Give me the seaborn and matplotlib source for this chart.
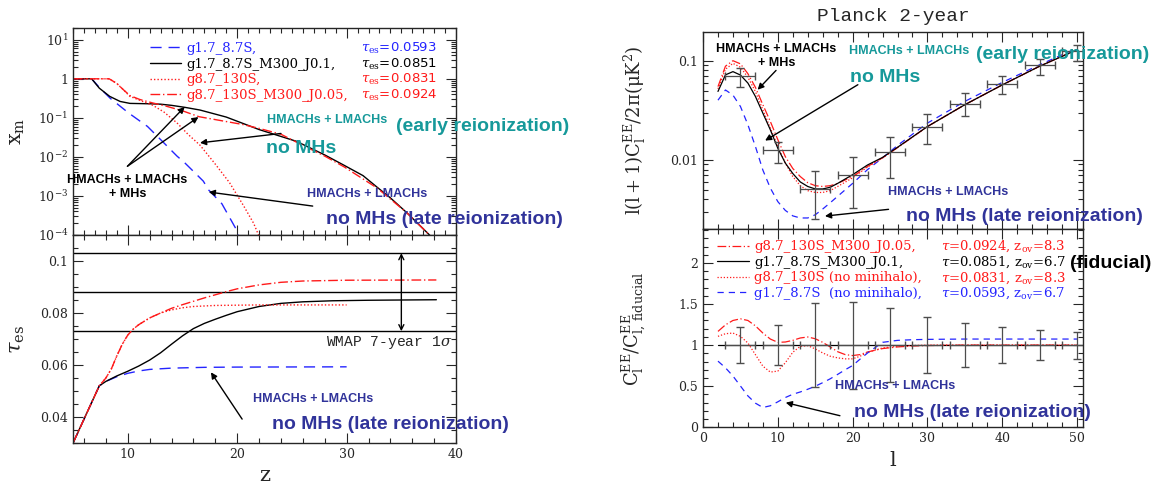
import numpy as np
import matplotlib
matplotlib.use("Agg")
import matplotlib.pyplot as plt
import matplotlib.ticker as mticker
import seaborn as sns

sns.set_style("ticks")
plt.rcParams['font.family'] = ['DejaVu Serif']
plt.rcParams['mathtext.fontset'] = 'dejavuserif'

BLUE = '#2424ff'
RED = '#ff1a1a'
TEAL = '#16999a'
NAVY = '#30339a'
BOLD = ['Liberation Sans', 'DejaVu Sans']

DASH = (0, (8, 5))
SDASH = (0, (5, 4))
DOT = (0, (1, 1.5))
DDOT = (0, (7, 2, 1, 2))

# ------------------------
# Data: x_m vs z (log10 x_m)
# ------------------------
z_xm_blue = [5.0, 6.7, 7.4, 8.4, 10.1, 11.8, 12.8, 14.5, 15.2, 16.9, 17.4, 18.6, 19.9, 20.2]
lxm_blue = [0.0, 0.0, -0.22, -0.50, -0.88, -1.22, -1.50, -1.98, -2.15, -2.62, -2.85, -3.20, -3.85, -4.10]

z_xm_black = [5.0, 6.7, 7.4, 8.35, 9.3, 10.2, 12.0, 13.0, 14.0, 15.2, 16.6, 19.0, 22.0, 25.4, 28.0,
              29.8, 31.5, 32.8, 34.0, 35.5, 37.5, 38.2]
lxm_black = [0.0, 0.0, -0.24, -0.45, -0.58, -0.63, -0.64, -0.65, -0.68, -0.73, -0.80, -0.98, -1.30,
             -1.60, -1.95, -2.22, -2.48, -2.78, -3.05, -3.43, -3.98, -4.20]

z_xm_dd = [5.0, 8.3, 9.0, 9.6, 10.2, 11.1, 12.3, 13.5, 15.0, 16.5, 18.5, 20.5, 22.0, 24.0, 25.4,
           28.0, 29.8, 32.8, 35.5, 37.5, 38.2]
lxm_dd = [0.0, 0.0, -0.12, -0.28, -0.43, -0.53, -0.62, -0.70, -0.82, -0.97, -1.07, -1.17, -1.27,
          -1.42, -1.62, -1.98, -2.26, -2.80, -3.43, -3.98, -4.20]

z_xm_dot = [5.0, 8.3, 9.0, 9.6, 10.2, 11.1, 12.3, 13.3, 14.5, 15.5, 16.6, 17.9, 19.3, 20.6, 21.5, 22.1]
lxm_dot = [0.0, 0.0, -0.12, -0.28, -0.45, -0.55, -0.68, -0.85, -1.13, -1.42, -1.70, -2.15, -2.66,
           -3.26, -3.70, -4.10]

# ------------------------
# Data: tau_es vs z
# ------------------------
z_tau_blue = [5.0, 7.4, 8.0, 9.0, 10.0, 11.0, 12.0, 14.0, 17.0, 20.0, 30.0]
tau_blue = [0.030, 0.052, 0.0537, 0.0555, 0.0568, 0.0577, 0.0583, 0.0588, 0.0591, 0.0592, 0.0593]

z_tau_black = [5.0, 7.4, 8.0, 9.0, 10.0, 11.0, 12.0, 13.0, 14.0, 15.0, 16.0, 17.0, 18.0, 19.0, 20.0,
               22.0, 24.0, 26.0, 28.7, 32.0, 38.2]
tau_black = [0.030, 0.052, 0.0537, 0.0558, 0.0576, 0.0596, 0.0619, 0.0647, 0.0680, 0.0712, 0.0740,
             0.0760, 0.0776, 0.0791, 0.0805, 0.0825, 0.0837, 0.0843, 0.0847, 0.0849, 0.0851]

z_tau_dd = [5.0, 7.4, 8.0, 8.5, 9.0, 9.5, 10.0, 10.5, 11.0, 12.0, 13.0, 14.0, 15.0, 16.0, 17.0, 18.0,
            19.0, 20.0, 22.0, 24.0, 26.0, 30.0, 38.2]
tau_dd = [0.030, 0.052, 0.0550, 0.0585, 0.0635, 0.0680, 0.0715, 0.0738, 0.0755, 0.0781, 0.0800,
          0.0818, 0.0832, 0.0845, 0.0858, 0.0870, 0.0882, 0.0893, 0.0908, 0.0918, 0.0923, 0.0926,
          0.0927]

z_tau_dot = [5.0, 7.4, 8.0, 8.5, 9.0, 9.5, 10.0, 10.5, 11.0, 12.0, 13.0, 14.0, 15.0, 16.0, 18.0,
             22.0, 30.0]
tau_dot = [0.030, 0.052, 0.0550, 0.0585, 0.0635, 0.0680, 0.0715, 0.0738, 0.0755, 0.0781, 0.0800,
           0.0812, 0.0820, 0.0825, 0.0829, 0.0831, 0.0831]

wmap_tau = [0.073, 0.088, 0.103]

# ------------------------
# Data: EE spectrum
# ------------------------
ell = [2, 3, 4, 5, 6, 7, 8, 9, 10, 11, 12, 13, 14, 15, 16, 17, 18, 20, 22, 24, 26, 30, 35, 40, 45, 50]
cl_black = [0.049, 0.072, 0.0776, 0.0717, 0.0595, 0.0437, 0.0296, 0.0201, 0.0131, 0.0093, 0.0073,
            0.0060, 0.0054, 0.0051, 0.0051, 0.0053, 0.0058, 0.0071, 0.0089, 0.0106, 0.0134, 0.0217,
            0.036, 0.057, 0.088, 0.129]
cl_dd = [0.0548, 0.088, 0.100, 0.093, 0.074, 0.054, 0.036, 0.0244, 0.016, 0.0108, 0.0082, 0.0068,
         0.0059, 0.0055, 0.0054, 0.0055, 0.0058, 0.0068, 0.0086, 0.0105, 0.0133, 0.0217, 0.036,
         0.057, 0.088, 0.129]
cl_dot = [0.052, 0.082, 0.094, 0.086, 0.068, 0.049, 0.032, 0.021, 0.0137, 0.0093, 0.0068, 0.0055,
          0.0049, 0.0047, 0.0047, 0.0049, 0.0054, 0.0066, 0.0085, 0.0105, 0.0133, 0.0217, 0.036,
          0.057, 0.088, 0.129]
cl_blue = [0.040, 0.0507, 0.045, 0.0346, 0.0226, 0.0137, 0.0079, 0.0052, 0.0038, 0.0031, 0.00273,
           0.0026, 0.0026, 0.0028, 0.0032, 0.0037, 0.0043, 0.0058, 0.0080, 0.0105, 0.0140, 0.0235,
           0.0389, 0.0604, 0.091, 0.134]

ell_bin = [5, 10, 15, 20, 25, 30, 35, 40, 45, 50]
cl_bin = [0.0705, 0.0126, 0.0051, 0.0071, 0.0119, 0.0217, 0.0368, 0.0586, 0.0897, 0.124]
cl_lo = [0.0542, 0.0094, 0.00254, 0.00325, 0.00653, 0.0145, 0.0274, 0.046, 0.0716, 0.100]
cl_hi = [0.0843, 0.0153, 0.0078, 0.0108, 0.0172, 0.0292, 0.0471, 0.0705, 0.104, 0.145]
ratio_err = [0.22, 0.243, 0.51, 0.53, 0.45, 0.34, 0.27, 0.22, 0.185, 0.165]

# ------------------------
# Data: ratio to fiducial
# ------------------------
ell_r = [2, 3, 4, 5, 6, 7, 8, 9, 10, 11, 12, 13, 14, 15, 16, 17, 18, 19, 20, 21, 22, 24, 26, 28, 30,
         35, 40, 45, 50]
ratio_dd = [1.167, 1.247, 1.30, 1.32, 1.30, 1.235, 1.147, 1.074, 1.034, 1.038, 1.058, 1.087, 1.099,
            1.078, 1.034, 0.978, 0.92, 0.885, 0.873, 0.885, 0.917, 0.958, 0.978, 0.99, 0.995, 1.0,
            1.0, 1.0, 1.0]
ratio_dot = [1.107, 1.139, 1.147, 1.107, 1.026, 0.885, 0.744, 0.672, 0.684, 0.785, 0.913, 0.986,
             0.994, 0.954, 0.905, 0.865, 0.845, 0.833, 0.833, 0.865, 0.913, 0.966, 0.986, 0.995,
             1.0, 1.0, 1.0, 1.0, 1.0]
ratio_blue = [0.805, 0.724, 0.624, 0.503, 0.382, 0.294, 0.241, 0.262, 0.31, 0.362, 0.402, 0.43,
              0.463, 0.5, 0.543, 0.59, 0.644, 0.70, 0.752, 0.83, 0.905, 1.034, 1.058, 1.066, 1.07,
              1.074, 1.074, 1.074, 1.074]
ell_fid = [2, 50.8]
ratio_fid = [1.0, 1.0]

names_left = ['g1.7_8.7S,', 'g1.7_8.7S_M300_J0.1,', 'g8.7_130S,', 'g8.7_130S_M300_J0.05,']
taus_left = [r'$\tau_{\rm es}$=0.0593', r'$\tau_{\rm es}$=0.0851', r'$\tau_{\rm es}$=0.0831',
             r'$\tau_{\rm es}$=0.0924']
names_right = ['g8.7_130S_M300_J0.05,', 'g1.7_8.7S_M300_J0.1,', 'g8.7_130S (no minihalo),',
               'g1.7_8.7S  (no minihalo),']
taus_right = [r'$\tau$=0.0924, z$_{\rm ov}$=8.3', r'$\tau$=0.0851, z$_{\rm ov}$=6.7',
              r'$\tau$=0.0831, z$_{\rm ov}$=8.3', r'$\tau$=0.0593, z$_{\rm ov}$=6.7']


def style_axes(ax):
    ax.tick_params(which='both', direction='in', top=True, right=True, labelsize=9, width=0.8)
    ax.tick_params(which='major', length=7)
    ax.tick_params(which='minor', length=3.5)
    for s in ax.spines.values():
        s.set_linewidth(1.0)


def arrow(ax, start, end, style='-|>'):
    ax.annotate('', xy=end, xytext=start,
                arrowprops=dict(arrowstyle=style, color='k', lw=1, shrinkA=0, shrinkB=0,
                                mutation_scale=9))


def legend_tau(ax, handles, names, taus, colors, anchor, tau_x, tau_family):
    # names go in a real legend, the tau column is put on the same baselines
    leg = ax.legend(handles, names, loc='upper left', bbox_to_anchor=anchor, frameon=False,
                    fontsize=9.5, handlelength=2.4, handletextpad=0.4, labelspacing=0.2,
                    borderpad=0, borderaxespad=0, labelcolor=colors)
    fig.canvas.draw()
    for txt, tau, c in zip(leg.get_texts(), taus, colors):
        xd, yd = txt.get_transform().transform(txt.get_position())
        ya = ax.transAxes.inverted().transform((xd, yd))[1]
        ax.text(tau_x, ya, tau, color=c, fontsize=9.5, va='baseline', ha='left',
                family=tau_family, transform=ax.transAxes)


def bold(ax, x, y, s, color, size, **kw):
    ax.text(x, y, s, color=color, fontsize=size, fontweight='bold', family=BOLD,
            va='center', **kw)


fig = plt.figure(figsize=(11.54, 4.87), dpi=100)
ax1 = fig.add_axes([0.0633, 0.5175, 0.3319, 0.425])
ax2 = fig.add_axes([0.0633, 0.0903, 0.3319, 0.4272])
ax3 = fig.add_axes([0.6092, 0.5292, 0.3293, 0.4057])
ax4 = fig.add_axes([0.6092, 0.1226, 0.3293, 0.4066])

# ------------------------
# x_m panel
# ------------------------
ax1.set_yscale('log')
sns.lineplot(x=z_xm_blue, y=10 ** np.array(lxm_blue), ax=ax1, color=BLUE, linestyle=DASH, lw=1)
sns.lineplot(x=z_xm_black, y=10 ** np.array(lxm_black), ax=ax1, color='k', lw=1)
sns.lineplot(x=z_xm_dot, y=10 ** np.array(lxm_dot), ax=ax1, color=RED, linestyle=DOT, lw=1)
sns.lineplot(x=z_xm_dd, y=10 ** np.array(lxm_dd), ax=ax1, color=RED, linestyle=DDOT, lw=1)
ax1.set_xlim(5, 40)
ax1.set_ylim(1e-4, 20)
ax1.xaxis.set_major_locator(mticker.MultipleLocator(10))
ax1.xaxis.set_minor_locator(mticker.MultipleLocator(1))
ax1.yaxis.set_major_locator(mticker.LogLocator(base=10, numticks=10))
ax1.yaxis.set_minor_locator(mticker.LogLocator(base=10, subs=np.arange(2, 10), numticks=20))
ax1.yaxis.set_major_formatter(mticker.FuncFormatter(
    lambda v, p: '1' if abs(v - 1) < 1e-9 else r'$10^{%d}$' % round(np.log10(v))))
ax1.yaxis.set_minor_formatter(mticker.NullFormatter())
ax1.set_xticklabels([])
ax1.set_xlabel('')
ax1.set_ylabel(r'$\mathrm{x_m}$', fontsize=15)
ax1.yaxis.set_label_coords(-0.12, 0.5)
style_axes(ax1)
legend_tau(ax1, ax1.get_lines()[:4], names_left, taus_left, [BLUE, 'k', RED, RED], (0.2, 0.933),
           0.752, 'DejaVu Sans')

bold(ax1, 9.97, 10 ** -2.77, 'HMACHs + LMACHs\n+ MHs', 'k', 9, ha='center', multialignment='center')
arrow(ax1, (9.97, 10 ** -2.24), (15.2, 10 ** -0.72))
arrow(ax1, (9.97, 10 ** -2.24), (16.46, 10 ** -0.98))
bold(ax1, 28.2, 10 ** -1.06, 'HMACHs + LMACHs', TEAL, 9, ha='center')
bold(ax1, 34.5, 10 ** -1.22, '(early reionization)', TEAL, 14, ha='left')
bold(ax1, 25.8, 10 ** -1.79, 'no MHs', TEAL, 14, ha='center')
arrow(ax1, (24.0, 10 ** -1.40), (16.6, 10 ** -1.64))
bold(ax1, 31.9, 10 ** -2.94, 'HMACHs + LMACHs', NAVY, 9, ha='center')
bold(ax1, 38.95, 10 ** -3.6, 'no MHs (late reionization)', NAVY, 14, ha='center')
arrow(ax1, (26.9, 10 ** -3.26), (17.4, 10 ** -2.9))

# ------------------------
# tau_es panel
# ------------------------
for t in wmap_tau:
    ax2.axhline(t, color='k', lw=1)
sns.lineplot(x=z_tau_blue, y=tau_blue, ax=ax2, color=BLUE, linestyle=DASH, lw=1)
sns.lineplot(x=z_tau_black, y=tau_black, ax=ax2, color='k', lw=1)
sns.lineplot(x=z_tau_dot, y=tau_dot, ax=ax2, color=RED, linestyle=DOT, lw=1)
sns.lineplot(x=z_tau_dd, y=tau_dd, ax=ax2, color=RED, linestyle=DDOT, lw=1)
ax2.set_xlim(5, 40)
ax2.set_ylim(0.03, 0.11)
ax2.xaxis.set_major_locator(mticker.MultipleLocator(10))
ax2.xaxis.set_minor_locator(mticker.MultipleLocator(2))
ax2.yaxis.set_major_locator(mticker.FixedLocator([0.04, 0.06, 0.08, 0.1]))
ax2.yaxis.set_major_formatter(mticker.FixedFormatter(['0.04', '0.06', '0.08', '0.1']))
ax2.yaxis.set_minor_locator(mticker.MultipleLocator(0.005))
ax2.set_xlabel('z', fontsize=15)
ax2.set_ylabel(r'$\tau_{\rm es}$', fontsize=15)
ax2.yaxis.set_label_coords(-0.12, 0.5)
style_axes(ax2)
arrow(ax2, (35, wmap_tau[1]), (35, wmap_tau[2]), '->')
arrow(ax2, (35, wmap_tau[1]), (35, wmap_tau[0]), '->')
ax2.text(33.9, 0.0685, r'WMAP 7-year 1$\sigma$', family='Liberation Mono', fontsize=10.5,
         ha='center', va='center')
arrow(ax2, (20.45, 0.0392), (17.6, 0.0572))
bold(ax2, 26.9, 0.0469, 'HMACHs + LMACHs', NAVY, 9, ha='center')
bold(ax2, 34.0, 0.0373, 'no MHs (late reionization)', NAVY, 14, ha='center')

# ------------------------
# EE spectrum panel
# ------------------------
ax3.set_yscale('log')
sns.lineplot(x=ell, y=cl_blue, ax=ax3, color=BLUE, linestyle=SDASH, lw=0.9)
sns.lineplot(x=ell, y=cl_dot, ax=ax3, color=RED, linestyle=DOT, lw=0.9)
sns.lineplot(x=ell, y=cl_dd, ax=ax3, color=RED, linestyle=DDOT, lw=0.9)
sns.lineplot(x=ell, y=cl_black, ax=ax3, color='k', lw=0.9)
cl_arr = np.array(cl_bin)
ax3.errorbar(ell_bin, cl_bin, xerr=2, yerr=[cl_arr - np.array(cl_lo), np.array(cl_hi) - cl_arr],
             fmt='none', ecolor='0.3', elinewidth=0.9, capsize=3)
ax3.set_xlim(0, 50.8)
ax3.set_ylim(0.002, 0.196)
ax3.xaxis.set_major_locator(mticker.MultipleLocator(10))
ax3.xaxis.set_minor_locator(mticker.MultipleLocator(2))
ax3.yaxis.set_major_locator(mticker.FixedLocator([0.01, 0.1]))
ax3.yaxis.set_major_formatter(mticker.FixedFormatter(['0.01', '0.1']))
ax3.yaxis.set_minor_locator(mticker.LogLocator(base=10, subs=np.arange(2, 10), numticks=20))
ax3.yaxis.set_minor_formatter(mticker.NullFormatter())
ax3.set_xticklabels([])
ax3.set_xlabel('')
ax3.set_ylabel(r'$\mathrm{l(l+1)C_l^{EE}/2\pi(\mu K^2)}$', fontsize=13)
ax3.yaxis.set_label_coords(-0.145, 0.5)
ax3.set_title('Planck 2-year', family='Liberation Mono', fontsize=14, pad=8)
style_axes(ax3)
bold(ax3, 9.8, 10 ** -0.95, 'HMACHs + LMACHs\n+ MHs', 'k', 9, ha='center', multialignment='center')
arrow(ax3, (9.76, 10 ** -1.098), (7.3, 10 ** -1.293))
bold(ax3, 27.6, 0.126, 'HMACHs + LMACHs', TEAL, 9, ha='center')
bold(ax3, 36.5, 0.115, '(early reionization)', TEAL, 14, ha='left')
bold(ax3, 24.3, 10 ** -1.165, 'no MHs', TEAL, 14, ha='center')
arrow(ax3, (20.7, 10 ** -1.242), (8.3, 10 ** -1.805))
bold(ax3, 32.8, 10 ** -2.32, 'HMACHs + LMACHs', NAVY, 9, ha='center')
bold(ax3, 43.0, 10 ** -2.57, 'no MHs (late reionization)', NAVY, 14, ha='center')
arrow(ax3, (24.8, 10 ** -2.498), (16.3, 10 ** -2.566))

# ------------------------
# ratio panel
# ------------------------
sns.lineplot(x=ell_r, y=ratio_dd, ax=ax4, color=RED, linestyle=DDOT, lw=0.9)
sns.lineplot(x=ell_fid, y=ratio_fid, ax=ax4, color='k', lw=0.9)
sns.lineplot(x=ell_r, y=ratio_dot, ax=ax4, color=RED, linestyle=DOT, lw=0.9)
sns.lineplot(x=ell_r, y=ratio_blue, ax=ax4, color=BLUE, linestyle=SDASH, lw=0.9)
ax4.errorbar(ell_bin, np.ones(len(ell_bin)), xerr=2, yerr=ratio_err, fmt='none', ecolor='0.3',
             elinewidth=0.9, capsize=3)
ax4.set_xlim(0, 50.8)
ax4.set_ylim(0, 2.41)
ax4.xaxis.set_major_locator(mticker.MultipleLocator(10))
ax4.xaxis.set_minor_locator(mticker.MultipleLocator(2))
ax4.yaxis.set_major_locator(mticker.FixedLocator([0, 0.5, 1, 1.5, 2]))
ax4.yaxis.set_major_formatter(mticker.FixedFormatter(['0', '0.5', '1', '1.5', '2']))
ax4.yaxis.set_minor_locator(mticker.MultipleLocator(0.1))
ax4.set_xlabel('l', fontsize=15)
ax4.set_ylabel(r'$\mathrm{C_l^{EE}/C_{l,\,fiducial}^{EE}}$', fontsize=13)
ax4.yaxis.set_label_coords(-0.145, 0.5)
style_axes(ax4)
legend_tau(ax4, ax4.get_lines()[:4], names_right, taus_right, [RED, 'k', RED, BLUE],
           (0.038, 0.945), 0.626, 'DejaVu Serif')
bold(ax4, 49.1, 1.99, '(fiducial)', 'k', 14, ha='left')
bold(ax4, 25.7, 0.503, 'HMACHs + LMACHs', NAVY, 9, ha='center')
bold(ax4, 36.0, 0.181, 'no MHs (late reionization)', NAVY, 14, ha='center')
arrow(ax4, (18.3, 0.141), (11.06, 0.30))

fig.savefig('out.png', dpi=100)
